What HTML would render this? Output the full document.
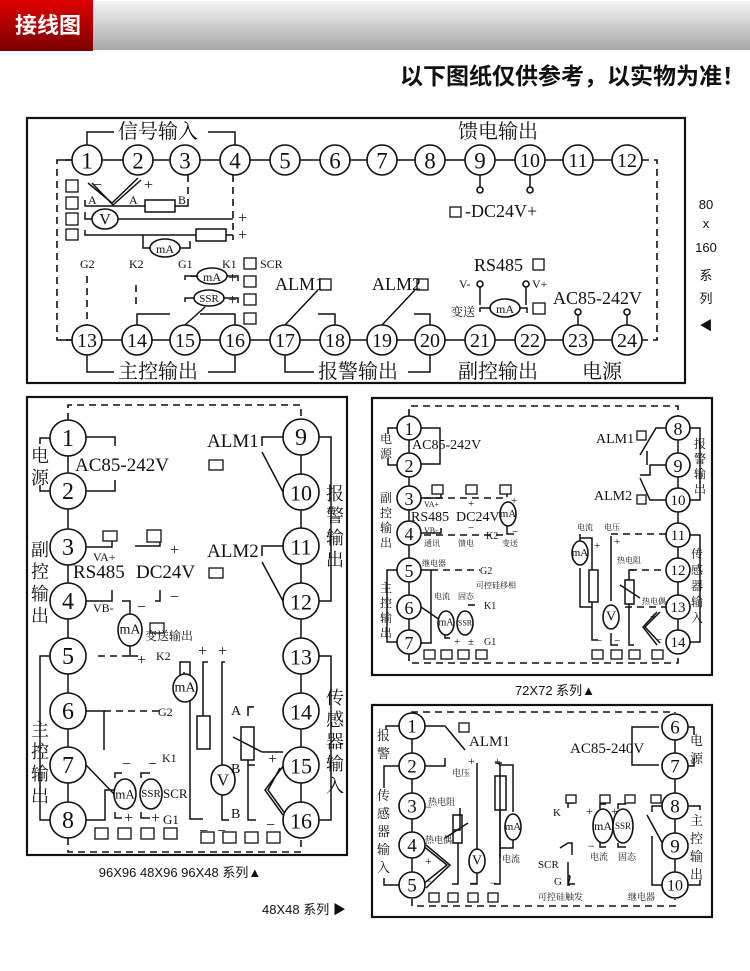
<!DOCTYPE html>
<html><head><meta charset="utf-8"><style>
html,body{margin:0;padding:0;background:#fff;}
body{width:750px;height:966px;overflow:hidden;position:relative;}
svg text{font-family:"Liberation Serif","Noto Serif CJK SC",serif;fill:#111;}
.c{fill:#fff;stroke:#111;stroke-width:1.6}
.l{stroke:#111;stroke-width:1.5;fill:none}
.d{stroke:#111;stroke-width:1.6;fill:none;stroke-dasharray:7 5}
.sq{fill:#fff;stroke:#111;stroke-width:1.3}
.n{text-anchor:middle;dominant-baseline:central}
.s{font-family:"Liberation Sans","Noto Sans CJK SC",sans-serif !important;}
</style></head><body>
<svg width="750" height="966" viewBox="0 0 750 966" xmlns="http://www.w3.org/2000/svg">
<defs>
<linearGradient id="g1" x1="0" y1="0" x2="0" y2="1"><stop offset="0" stop-color="#f4f4f4"/><stop offset="1" stop-color="#a8a8a8"/></linearGradient>
<linearGradient id="g2" x1="0" y1="0" x2="0" y2="1"><stop offset="0" stop-color="#e00000"/><stop offset="1" stop-color="#7a0000"/></linearGradient>
</defs>
<rect x="0" y="1" width="750" height="49" fill="url(#g1)"/>
<rect x="0" y="0" width="93" height="51" fill="url(#g2)"/>
<text x="15" y="33" class="s" style="font-size:22px;font-weight:bold;fill:#fff">接线图</text>
<text x="745" y="84" class="s" text-anchor="end" style="font-size:23px;font-weight:bold;fill:#111">以下图纸仅供参考，以实物为准！</text>

<!-- BOX 1 -->
<rect x="27" y="118" width="658" height="265" fill="none" stroke="#111" stroke-width="2.2"/>
<g class="l">
<line x1="60" y1="160" x2="630" y2="160"/><line x1="60" y1="340" x2="630" y2="340"/>
<polyline points="87,145 87,132 114,132"/><polyline points="208,132 235,132 235,145"/>
<polyline points="87,355 87,372 114,372"/><polyline points="208,372 235,372 235,355"/>
<polyline points="285,355 285,372 314,372"/><polyline points="408,372 430,372 430,355"/>
<polyline points="88,183 112,203 138,178"/><polyline points="92,183 113,205 141,180"/>
<polyline points="85,200 85,206 145,206"/><rect x="145" y="200" width="30" height="12"/><polyline points="175,206 188,206 188,200"/>
<polyline points="85,212 85,219 92,219"/><line x1="118" y1="219" x2="233" y2="219"/>
<polyline points="85,230 85,235 196,235"/><rect x="196" y="229" width="30" height="12"/><line x1="226" y1="235" x2="233" y2="235"/>
<polyline points="143,235 143,248 150,248"/><polyline points="180,248 190,248 190,241"/>
<polyline points="185,280 185,276 197,276"/><polyline points="227,276 238,276 238,281"/>
<polyline points="185,302 185,298 194,298"/><polyline points="224,298 238,298 238,303"/>
<polyline points="137,325 137,314 170,314"/><line x1="185" y1="325" x2="205" y2="307"/><polyline points="235,325 235,314 200,314"/>
<line x1="285" y1="325" x2="318" y2="290"/><polyline points="335,325 335,314 318,314"/>
<line x1="382" y1="325" x2="415" y2="290"/><polyline points="430,325 430,314 414,314"/>
<line x1="480" y1="175" x2="480" y2="187"/><line x1="530" y1="175" x2="530" y2="187"/>
<polyline points="480,287 480,305"/><polyline points="480,312 480,308 490,308"/><polyline points="520,308 527,308 527,313"/><polyline points="526,287 526,305"/>
<line x1="578" y1="325" x2="578" y2="315"/><line x1="627" y1="325" x2="627" y2="315"/>
</g>
<g class="d"><polyline points="72,160 57,160 57,340 72,340"/><polyline points="642,160 657,160 657,340 642,340"/>
<line x1="188" y1="175" x2="188" y2="200"/><line x1="233" y1="175" x2="233" y2="240"/>
<line x1="87" y1="276" x2="87" y2="325"/><line x1="136" y1="285" x2="136" y2="306"/></g>
<g>
<circle class="c" cx="480" cy="190" r="3"/><circle class="c" cx="530" cy="190" r="3"/>
<circle class="c" cx="480" cy="284" r="3"/><circle class="c" cx="526" cy="284" r="3"/>
<circle class="c" cx="578" cy="312" r="3"/><circle class="c" cx="627" cy="312" r="3"/>
<ellipse class="c" cx="105" cy="219" rx="13" ry="10"/><text x="105" y="220" class="n" font-size="16">V</text>
<ellipse class="c" cx="165" cy="248" rx="15" ry="9"/><text x="165" y="249" class="n" font-size="12">mA</text>
<ellipse class="c" cx="212" cy="276" rx="15" ry="8"/><text x="212" y="277" class="n" font-size="12">mA</text>
<ellipse class="c" cx="209" cy="298" rx="15" ry="8"/><text x="209" y="299" class="n" font-size="11">SSR</text>
<ellipse class="c" cx="505" cy="308" rx="15" ry="9"/><text x="505" y="309" class="n" font-size="12">mA</text>
<rect class="sq" x="66" y="180" width="12" height="12"/><rect class="sq" x="66" y="197" width="12" height="12"/><rect class="sq" x="66" y="213" width="12" height="12"/><rect class="sq" x="66" y="229" width="12" height="11"/>
<rect class="sq" x="244" y="258" width="12" height="11"/><rect class="sq" x="244" y="276" width="12" height="11"/><rect class="sq" x="244" y="294" width="12" height="11"/><rect class="sq" x="244" y="313" width="12" height="11"/>
<rect class="sq" x="320" y="279" width="11" height="11"/><rect class="sq" x="417" y="279" width="11" height="11"/>
<rect class="sq" x="450" y="207" width="11" height="10"/><rect class="sq" x="533" y="259" width="11" height="11"/><rect class="sq" x="533" y="303" width="12" height="11"/>
</g>
<g font-size="20"><text x="118" y="138">信号输入</text><text x="458" y="138">馈电输出</text>
<text x="118" y="378">主控输出</text><text x="318" y="378">报警输出</text><text x="458" y="378">副控输出</text><text x="582" y="378">电源</text></g>
<g font-size="12"><text x="88" y="204">A</text><text x="129" y="204">A</text><text x="178" y="204">B</text>
<text x="80" y="268">G2</text><text x="129" y="268">K2</text><text x="178" y="268">G1</text><text x="222" y="268">K1</text><text x="260" y="268">SCR</text>
<text x="459" y="288">V-</text><text x="532" y="288">V+</text><text x="451" y="316">变送</text></g>
<g font-size="16"><text x="93" y="190">−</text><text x="144" y="190">+</text><text x="238" y="223">+</text><text x="238" y="240">+</text>
<text x="190" y="282">−</text><text x="228" y="283">+</text><text x="228" y="305">+</text></g>
<g font-size="18"><text x="275" y="290">ALM1</text><text x="372" y="290">ALM2</text><text x="465" y="217">-DC24V+</text><text x="474" y="271">RS485</text><text x="553" y="304">AC85-242V</text></g>
<g font-size="23">
<circle class="c" cx="87" cy="160" r="15"/><text x="87" y="161" class="n">1</text>
<circle class="c" cx="138" cy="160" r="15"/><text x="138" y="161" class="n">2</text>
<circle class="c" cx="185" cy="160" r="15"/><text x="185" y="161" class="n">3</text>
<circle class="c" cx="235" cy="160" r="15"/><text x="235" y="161" class="n">4</text>
<circle class="c" cx="285" cy="160" r="15"/><text x="285" y="161" class="n">5</text>
<circle class="c" cx="335" cy="160" r="15"/><text x="335" y="161" class="n">6</text>
<circle class="c" cx="382" cy="160" r="15"/><text x="382" y="161" class="n">7</text>
<circle class="c" cx="430" cy="160" r="15"/><text x="430" y="161" class="n">8</text>
<circle class="c" cx="480" cy="160" r="15"/><text x="480" y="161" class="n">9</text>
<circle class="c" cx="530" cy="160" r="15"/><text x="530" y="161" class="n" font-size="20">10</text>
<circle class="c" cx="578" cy="160" r="15"/><text x="578" y="161" class="n" font-size="20">11</text>
<circle class="c" cx="627" cy="160" r="15"/><text x="627" y="161" class="n" font-size="20">12</text>
<g font-size="20">
<circle class="c" cx="87" cy="340" r="15"/><text x="87" y="341" class="n">13</text>
<circle class="c" cx="137" cy="340" r="15"/><text x="137" y="341" class="n">14</text>
<circle class="c" cx="185" cy="340" r="15"/><text x="185" y="341" class="n">15</text>
<circle class="c" cx="235" cy="340" r="15"/><text x="235" y="341" class="n">16</text>
<circle class="c" cx="285" cy="340" r="15"/><text x="285" y="341" class="n">17</text>
<circle class="c" cx="335" cy="340" r="15"/><text x="335" y="341" class="n">18</text>
<circle class="c" cx="382" cy="340" r="15"/><text x="382" y="341" class="n">19</text>
<circle class="c" cx="430" cy="340" r="15"/><text x="430" y="341" class="n">20</text>
<circle class="c" cx="480" cy="340" r="15"/><text x="480" y="341" class="n">21</text>
<circle class="c" cx="530" cy="340" r="15"/><text x="530" y="341" class="n">22</text>
<circle class="c" cx="578" cy="340" r="15"/><text x="578" y="341" class="n">23</text>
<circle class="c" cx="627" cy="340" r="15"/><text x="627" y="341" class="n">24</text></g>
</g>
<g class="s" font-size="13" text-anchor="middle"><text x="706" y="209" class="s">80</text><text x="706" y="228" class="s">x</text><text x="706" y="252" class="s">160</text><text x="706" y="280" class="s">系</text><text x="706" y="303" class="s">列</text><text x="706" y="330" class="s">◀</text></g>

<!-- BOX 2 -->
<rect x="27" y="397" width="320" height="458" fill="none" stroke="#111" stroke-width="2.2"/>
<g class="l"><line x1="68" y1="438" x2="68" y2="820"/><line x1="301" y1="438" x2="301" y2="820"/>
<polyline points="86,437 115,437 115,446"/><polyline points="86,491 115,491 115,480"/>
<polyline points="50,438 40,438 40,444"/><polyline points="50,491 40,491 40,485"/>
<polyline points="86,547 112,547 112,541"/><polyline points="86,601 112,601 112,590"/>
<polyline points="135,546 160,546 160,542"/><polyline points="155,601 160,601 160,590"/>
<polyline points="122,601 130,601 130,614"/><polyline points="130,645 130,656 138,656"/>
<polyline points="50,656 40,656 40,790"/><polyline points="40,790 40,820 50,820"/>
<polyline points="86,711 104,711 104,750"/>
<line x1="86" y1="765" x2="115" y2="795"/><polyline points="86,820 105,820 105,790 114,790"/>
<polyline points="115,778 115,773 122,773"/><polyline points="115,812 115,818 122,818"/>
<polyline points="141,778 141,773 150,773"/><polyline points="141,812 141,818 150,818"/>
<polyline points="286,437 262,437 262,446"/><polyline points="262,452 283,492"/>
<polyline points="286,546 262,546 262,556"/><polyline points="262,562 283,601"/>
<polyline points="319,437 331,437 331,601 319,601"/><polyline points="319,656 331,656 331,820 319,820"/>
<polyline points="180,700 180,662 190,662 190,819 203,819"/><rect x="197" y="716" width="13" height="33"/><polyline points="203,716 203,662 208,662"/>
<polyline points="184,699 184,672"/>
<polyline points="225,662 222,662 222,766"/><polyline points="222,795 222,820 229,820"/>
<polyline points="248,716 248,707 254,707"/><rect x="241" y="727" width="13" height="33"/><polyline points="248,760 248,765 255,765"/><polyline points="248,765 248,820 256,820"/>
<line x1="233" y1="737" x2="262" y2="752"/><line x1="262" y1="752" x2="283" y2="752"/>
<polyline points="284,765 265,790 283,815"/><polyline points="280,768 268,790 286,815"/>
</g>
<g class="d"><polyline points="68,420 68,405 301,405 301,420"/><polyline points="68,838 68,852 301,852 301,838"/>
<line x1="98" y1="656" x2="130" y2="656"/><line x1="104" y1="711" x2="160" y2="711"/></g>
<g>
<ellipse class="c" cx="130" cy="630" rx="12" ry="16"/><text x="130" y="630" class="n" font-size="14">mA</text>
<ellipse class="c" cx="185" cy="688" rx="12" ry="14"/><text x="185" y="688" class="n" font-size="14">mA</text>
<ellipse class="c" cx="223" cy="780" rx="12" ry="15"/><text x="223" y="780" class="n" font-size="17">V</text>
<ellipse class="c" cx="125" cy="794" rx="11" ry="15"/><text x="125" y="794" class="n" font-size="13">mA</text>
<ellipse class="c" cx="151" cy="794" rx="11" ry="15"/><text x="151" y="794" class="n" font-size="11">SSR</text>
<rect class="sq" x="103" y="531" width="14" height="10"/><rect class="sq" x="147" y="530" width="14" height="12"/><rect class="sq" x="150" y="623" width="14" height="10"/>
<rect class="sq" x="209" y="460" width="14" height="10"/><rect class="sq" x="209" y="568" width="14" height="10"/>
<rect class="sq" x="95" y="828" width="13" height="11"/><rect class="sq" x="118" y="828" width="13" height="11"/><rect class="sq" x="141" y="828" width="13" height="11"/><rect class="sq" x="164" y="828" width="13" height="11"/>
<rect class="sq" x="201" y="832" width="13" height="11"/><rect class="sq" x="223" y="832" width="13" height="11"/><rect class="sq" x="245" y="832" width="13" height="11"/><rect class="sq" x="267" y="832" width="13" height="11"/>
</g>
<g font-size="18"><text x="31" y="462">电</text><text x="31" y="484">源</text>
<text x="31" y="556">副</text><text x="31" y="578">控</text><text x="31" y="600">输</text><text x="31" y="622">出</text>
<text x="31" y="736">主</text><text x="31" y="758">控</text><text x="31" y="780">输</text><text x="31" y="802">出</text>
<text x="326" y="500">报</text><text x="326" y="522">警</text><text x="326" y="544">输</text><text x="326" y="566">出</text>
<text x="326" y="704">传</text><text x="326" y="726">感</text><text x="326" y="748">器</text><text x="326" y="770">输</text><text x="326" y="792">入</text></g>
<g font-size="19"><text x="75" y="471">AC85-242V</text><text x="73" y="578">RS485</text><text x="136" y="578">DC24V</text><text x="207" y="447">ALM1</text><text x="207" y="557">ALM2</text></g>
<g font-size="12"><text x="93" y="561">VA+</text><text x="93" y="612">VB-</text><text x="145" y="640">变送输出</text><text x="156" y="660">K2</text><text x="158" y="716">G2</text><text x="162" y="762">K1</text><text x="163" y="798" font-size="13">SCR</text><text x="163" y="824" font-size="13">G1</text>
<text x="231" y="715" font-size="14">A</text><text x="231" y="773" font-size="14">B</text><text x="231" y="818" font-size="14">B</text></g>
<g font-size="16"><text x="170" y="555">+</text><text x="170" y="602">−</text><text x="137" y="612">−</text><text x="137" y="665">+</text>
<text x="198" y="656">+</text><text x="218" y="656">+</text><text x="268" y="764">+</text><text x="122" y="769">−</text><text x="148" y="769">−</text><text x="124" y="823">+</text><text x="151" y="823">+</text>
<text x="199" y="836">−</text><text x="217" y="836">−</text><text x="266" y="830">−</text></g>
<g font-size="24">
<circle class="c" cx="68" cy="438" r="18"/><text x="68" y="439" class="n">1</text>
<circle class="c" cx="68" cy="491" r="18"/><text x="68" y="492" class="n">2</text>
<circle class="c" cx="68" cy="547" r="18"/><text x="68" y="548" class="n">3</text>
<circle class="c" cx="68" cy="601" r="18"/><text x="68" y="602" class="n">4</text>
<circle class="c" cx="68" cy="656" r="18"/><text x="68" y="657" class="n">5</text>
<circle class="c" cx="68" cy="711" r="18"/><text x="68" y="712" class="n">6</text>
<circle class="c" cx="68" cy="765" r="18"/><text x="68" y="766" class="n">7</text>
<circle class="c" cx="68" cy="820" r="18"/><text x="68" y="821" class="n">8</text>
<circle class="c" cx="301" cy="437" r="18"/><text x="301" y="438" class="n">9</text>
<g font-size="22">
<circle class="c" cx="301" cy="492" r="18"/><text x="301" y="493" class="n">10</text>
<circle class="c" cx="301" cy="546" r="18"/><text x="301" y="547" class="n">11</text>
<circle class="c" cx="301" cy="601" r="18"/><text x="301" y="602" class="n">12</text>
<circle class="c" cx="301" cy="656" r="18"/><text x="301" y="657" class="n">13</text>
<circle class="c" cx="301" cy="711" r="18"/><text x="301" y="712" class="n">14</text>
<circle class="c" cx="301" cy="765" r="18"/><text x="301" y="766" class="n">15</text>
<circle class="c" cx="301" cy="820" r="18"/><text x="301" y="821" class="n">16</text></g>
</g>
<text x="180" y="877" class="s" text-anchor="middle" font-size="13">96X96 48X96 96X48 系列▲</text>

<!-- BOX 3 -->
<rect x="372" y="398" width="340" height="277" fill="none" stroke="#111" stroke-width="2.2"/>
<g class="l"><line x1="409" y1="428" x2="409" y2="642"/><line x1="678" y1="428" x2="678" y2="642"/>
<polyline points="421,428 440,428 440,464 421,464"/><polyline points="397,428 388,428 388,434"/><polyline points="397,465 388,465 388,458"/>
<polyline points="421,498 441,498 441,494"/><polyline points="421,533 441,533 441,528"/>
<polyline points="507,497 507,486"/><polyline points="507,526 507,534 514,534"/>
<polyline points="421,570 431,570 431,643 421,643"/><polyline points="397,570 387,570 387,642 397,642"/>
<polyline points="421,607 440,620"/><polyline points="445,627 445,638 450,638"/>
<polyline points="666,428 656,428 640,455"/><polyline points="640,475 650,475 650,465 666,465"/>
<polyline points="640,478 650,500 666,500"/><line x1="647" y1="465" x2="647" y2="451"/>
<polyline points="690,428 700,428 700,500 690,500"/><polyline points="690,535 700,535 700,642 690,642"/>
<polyline points="580,534 580,535 580,538 592,538 592,570"/><rect x="589" y="570" width="9" height="32"/><polyline points="592,602 592,640 598,640"/>
<polyline points="580,538 580,548"/><polyline points="580,568 580,607 592,607"/>
<polyline points="611,536 611,601"/><polyline points="611,633 611,645 618,645"/>
<rect x="625" y="580" width="9" height="24"/><polyline points="629,580 629,570 634,570"/><polyline points="629,604 629,645 634,645"/><line x1="620" y1="585" x2="640" y2="598"/>
<polyline points="660,612 645,627 660,643"/><polyline points="657,612 643,627 657,645"/>
</g>
<g class="d"><polyline points="409,416 409,406 678,406 678,416"/><polyline points="409,654 409,663 678,663 678,654"/>
<line x1="424" y1="498" x2="505" y2="498"/><line x1="424" y1="535" x2="505" y2="535"/>
<line x1="431" y1="570" x2="480" y2="570"/><line x1="611" y1="534" x2="666" y2="534"/><line x1="630" y1="570" x2="666" y2="570"/><line x1="625" y1="607" x2="666" y2="607"/>
<line x1="468" y1="605" x2="480" y2="605"/></g>
<g>
<ellipse class="c" cx="508" cy="514" rx="8" ry="12"/><text x="508" y="514" class="n" font-size="11">mA</text>
<ellipse class="c" cx="580" cy="553" rx="8" ry="12"/><text x="580" y="553" class="n" font-size="11">mA</text>
<ellipse class="c" cx="611" cy="617" rx="8" ry="12"/><text x="611" y="617" class="n" font-size="14">V</text>
<ellipse class="c" cx="446" cy="623" rx="8" ry="12"/><text x="446" y="623" class="n" font-size="10">mA</text>
<ellipse class="c" cx="465" cy="623" rx="8" ry="12"/><text x="465" y="623" class="n" font-size="8">SSR</text>
<rect class="sq" x="432" y="485" width="11" height="9"/><rect class="sq" x="466" y="485" width="11" height="9"/><rect class="sq" x="500" y="485" width="11" height="9"/>
<rect class="sq" x="637" y="431" width="9" height="9"/><rect class="sq" x="637" y="495" width="9" height="9"/>
<rect class="sq" x="424" y="650" width="11" height="9"/><rect class="sq" x="441" y="650" width="11" height="9"/><rect class="sq" x="458" y="650" width="11" height="9"/><rect class="sq" x="476" y="650" width="11" height="9"/>
<rect class="sq" x="592" y="650" width="11" height="9"/><rect class="sq" x="611" y="650" width="11" height="9"/><rect class="sq" x="629" y="650" width="11" height="9"/><rect class="sq" x="652" y="650" width="11" height="9"/>
</g>
<g font-size="12"><text x="380" y="443">电</text><text x="380" y="458">源</text>
<text x="380" y="502">副</text><text x="380" y="517">控</text><text x="380" y="532">输</text><text x="380" y="547">出</text>
<text x="380" y="592">主</text><text x="380" y="607">控</text><text x="380" y="622">输</text><text x="380" y="637">出</text>
<text x="694" y="448">报</text><text x="694" y="463">警</text><text x="694" y="478">输</text><text x="694" y="493">出</text>
<text x="691" y="558">传</text><text x="691" y="574">感</text><text x="691" y="590">器</text><text x="691" y="606">输</text><text x="691" y="622">入</text></g>
<g font-size="14"><text x="412" y="449">AC85-242V</text><text x="411" y="521">RS485</text><text x="456" y="521">DC24V</text><text x="596" y="443">ALM1</text><text x="594" y="500">ALM2</text></g>
<g font-size="8"><text x="424" y="507">VA+</text><text x="424" y="533">VB-</text><text x="424" y="546">通讯</text><text x="458" y="546">馈电</text><text x="502" y="546">变送</text><text x="486" y="539" font-size="10">K2</text>
<text x="422" y="566">继电器</text><text x="480" y="574" font-size="10">G2</text><text x="476" y="588">可控硅移相</text>
<text x="434" y="599">电流</text><text x="458" y="599">固态</text><text x="484" y="609" font-size="10">K1</text><text x="484" y="645" font-size="10">G1</text>
<text x="577" y="530">电流</text><text x="604" y="530">电压</text><text x="617" y="563">热电阻</text><text x="642" y="604">热电偶</text></g>
<g font-size="11"><text x="511" y="504">+</text><text x="512" y="535">−</text><text x="468" y="507">+</text><text x="468" y="531">−</text><text x="594" y="549">+</text><text x="614" y="545">+</text><text x="650" y="620">+</text><text x="454" y="645">+</text><text x="468" y="645">±</text><text x="596" y="644">−</text><text x="614" y="644">−</text><text x="656" y="643">−</text></g>
<g font-size="18">
<circle class="c" cx="409" cy="428" r="12"/><text x="409" y="429" class="n">1</text>
<circle class="c" cx="409" cy="465" r="12"/><text x="409" y="466" class="n">2</text>
<circle class="c" cx="409" cy="498" r="12"/><text x="409" y="499" class="n">3</text>
<circle class="c" cx="409" cy="533" r="12"/><text x="409" y="534" class="n">4</text>
<circle class="c" cx="409" cy="570" r="12"/><text x="409" y="571" class="n">5</text>
<circle class="c" cx="409" cy="607" r="12"/><text x="409" y="608" class="n">6</text>
<circle class="c" cx="409" cy="642" r="12"/><text x="409" y="643" class="n">7</text>
<circle class="c" cx="678" cy="428" r="12"/><text x="678" y="429" class="n">8</text>
<circle class="c" cx="678" cy="465" r="12"/><text x="678" y="466" class="n">9</text>
<g font-size="15">
<circle class="c" cx="678" cy="500" r="12"/><text x="678" y="501" class="n">10</text>
<circle class="c" cx="678" cy="535" r="12"/><text x="678" y="536" class="n">11</text>
<circle class="c" cx="678" cy="570" r="12"/><text x="678" y="571" class="n">12</text>
<circle class="c" cx="678" cy="607" r="12"/><text x="678" y="608" class="n">13</text>
<circle class="c" cx="678" cy="642" r="12"/><text x="678" y="643" class="n">14</text></g>
</g>
<text x="555" y="695" class="s" text-anchor="middle" font-size="13">72X72 系列▲</text>

<!-- BOX 4 -->
<rect x="372" y="705" width="340" height="212" fill="none" stroke="#111" stroke-width="2.2"/>
<g class="l"><line x1="412" y1="726" x2="412" y2="885"/><line x1="675" y1="727" x2="675" y2="885"/>
<polyline points="400,726 386,726 386,730"/><polyline points="425,726 445,726 465,750"/><polyline points="425,766 445,766 445,758"/>
<polyline points="400,766 384,766 384,788"/><polyline points="384,878 384,885 400,885"/>
<polyline points="460,808 460,830 453,830"/><rect x="453" y="815" width="9" height="28"/><line x1="445" y1="838" x2="468" y2="823"/><polyline points="458,843 458,884 452,884"/>
<polyline points="477,763 477,850"/><polyline points="477,872 477,884 470,884"/>
<polyline points="498,763 500,765 500,858"/><polyline points="495,763 502,763"/><rect x="495" y="776" width="11" height="34"/><polyline points="500,810 500,848 513,848 513,835"/><polyline points="500,765 513,765 513,812"/><polyline points="500,848 500,884 494,884"/>
<polyline points="422,845 447,865 422,885"/><polyline points="426,845 450,865 426,888"/>
<polyline points="659,727 632,727 632,765 659,765"/><polyline points="687,727 694,727 694,735"/><polyline points="687,766 694,766 694,758"/>
<polyline points="674,806 652,806 652,812"/><polyline points="647,815 665,848"/><polyline points="652,836 652,885 663,885"/>
<polyline points="687,806 700,806 700,810"/><polyline points="687,885 700,885 700,880"/>
<polyline points="568,808 568,803 574,803"/><polyline points="569,875 570,877 568,885 570,885"/>
<polyline points="560,848 568,843 572,843 572,855"/><polyline points="568,862 568,884 575,884"/>
<polyline points="600,809 600,804 606,804"/><polyline points="600,843 600,847 606,847"/><polyline points="618,809 618,804 626,804"/><polyline points="618,843 618,847 626,847"/>
</g>
<g class="d"><polyline points="412,713 412,712 675,712 675,713"/><polyline points="412,899 412,906 675,906 675,899"/></g>
<g>
<ellipse class="c" cx="513" cy="827" rx="8" ry="13"/><text x="513" y="827" class="n" font-size="11">mA</text>
<ellipse class="c" cx="477" cy="861" rx="8" ry="12"/><text x="477" y="861" class="n" font-size="14">V</text>
<ellipse class="c" cx="603" cy="826" rx="10" ry="17"/><text x="603" y="826" class="n" font-size="12">mA</text>
<ellipse class="c" cx="623" cy="826" rx="10" ry="17"/><text x="623" y="826" class="n" font-size="9">SSR</text>
<rect class="sq" x="459" y="723" width="10" height="9"/><rect class="sq" x="566" y="795" width="10" height="8"/><rect class="sq" x="600" y="795" width="10" height="8"/><rect class="sq" x="625" y="795" width="10" height="8"/><rect class="sq" x="651" y="795" width="10" height="8"/>
<rect class="sq" x="429" y="893" width="10" height="9"/><rect class="sq" x="448" y="893" width="10" height="9"/><rect class="sq" x="468" y="893" width="10" height="9"/><rect class="sq" x="488" y="893" width="10" height="9"/>
</g>
<g font-size="13"><text x="377" y="740">报</text><text x="377" y="758">警</text>
<text x="377" y="800">传</text><text x="377" y="818">感</text><text x="377" y="836">器</text><text x="377" y="854">输</text><text x="377" y="872">入</text>
<text x="690" y="745">电</text><text x="690" y="763">源</text>
<text x="690" y="825">主</text><text x="690" y="843">控</text><text x="690" y="861">输</text><text x="690" y="879">出</text></g>
<g font-size="15"><text x="469" y="746">ALM1</text><text x="570" y="753">AC85-240V</text></g>
<g font-size="9"><text x="452" y="776">电压</text><text x="428" y="805">热电阻</text><text x="425" y="843">热电偶</text><text x="502" y="862">电流</text>
<text x="590" y="860">电流</text><text x="618" y="860">固态</text><text x="538" y="900">可控硅触发</text><text x="628" y="900">继电器</text>
<text x="553" y="816" font-size="11">K</text><text x="538" y="868" font-size="11">SCR</text><text x="554" y="885" font-size="11">G</text></g>
<g font-size="12"><text x="468" y="765">+</text><text x="494" y="765">+</text><text x="425" y="811">−</text><text x="425" y="865">+</text><text x="425" y="885">−</text><text x="586" y="815">+</text><text x="611" y="815">+</text><text x="588" y="850">−</text>
<text x="470" y="887">−</text><text x="490" y="887">−</text></g>
<g font-size="19">
<circle class="c" cx="412" cy="726" r="13"/><text x="412" y="727" class="n">1</text>
<circle class="c" cx="412" cy="766" r="13"/><text x="412" y="767" class="n">2</text>
<circle class="c" cx="412" cy="806" r="13"/><text x="412" y="807" class="n">3</text>
<circle class="c" cx="412" cy="845" r="13"/><text x="412" y="846" class="n">4</text>
<circle class="c" cx="412" cy="885" r="13"/><text x="412" y="886" class="n">5</text>
<circle class="c" cx="675" cy="727" r="13"/><text x="675" y="728" class="n">6</text>
<circle class="c" cx="675" cy="766" r="13"/><text x="675" y="767" class="n">7</text>
<circle class="c" cx="675" cy="806" r="13"/><text x="675" y="807" class="n">8</text>
<circle class="c" cx="675" cy="846" r="13"/><text x="675" y="847" class="n">9</text>
<circle class="c" cx="675" cy="885" r="13"/><text x="675" y="886" class="n" font-size="16">10</text>
</g>
<text x="262" y="914" class="s" font-size="13">48X48 系列 ▶</text>
</svg>
</body></html>
